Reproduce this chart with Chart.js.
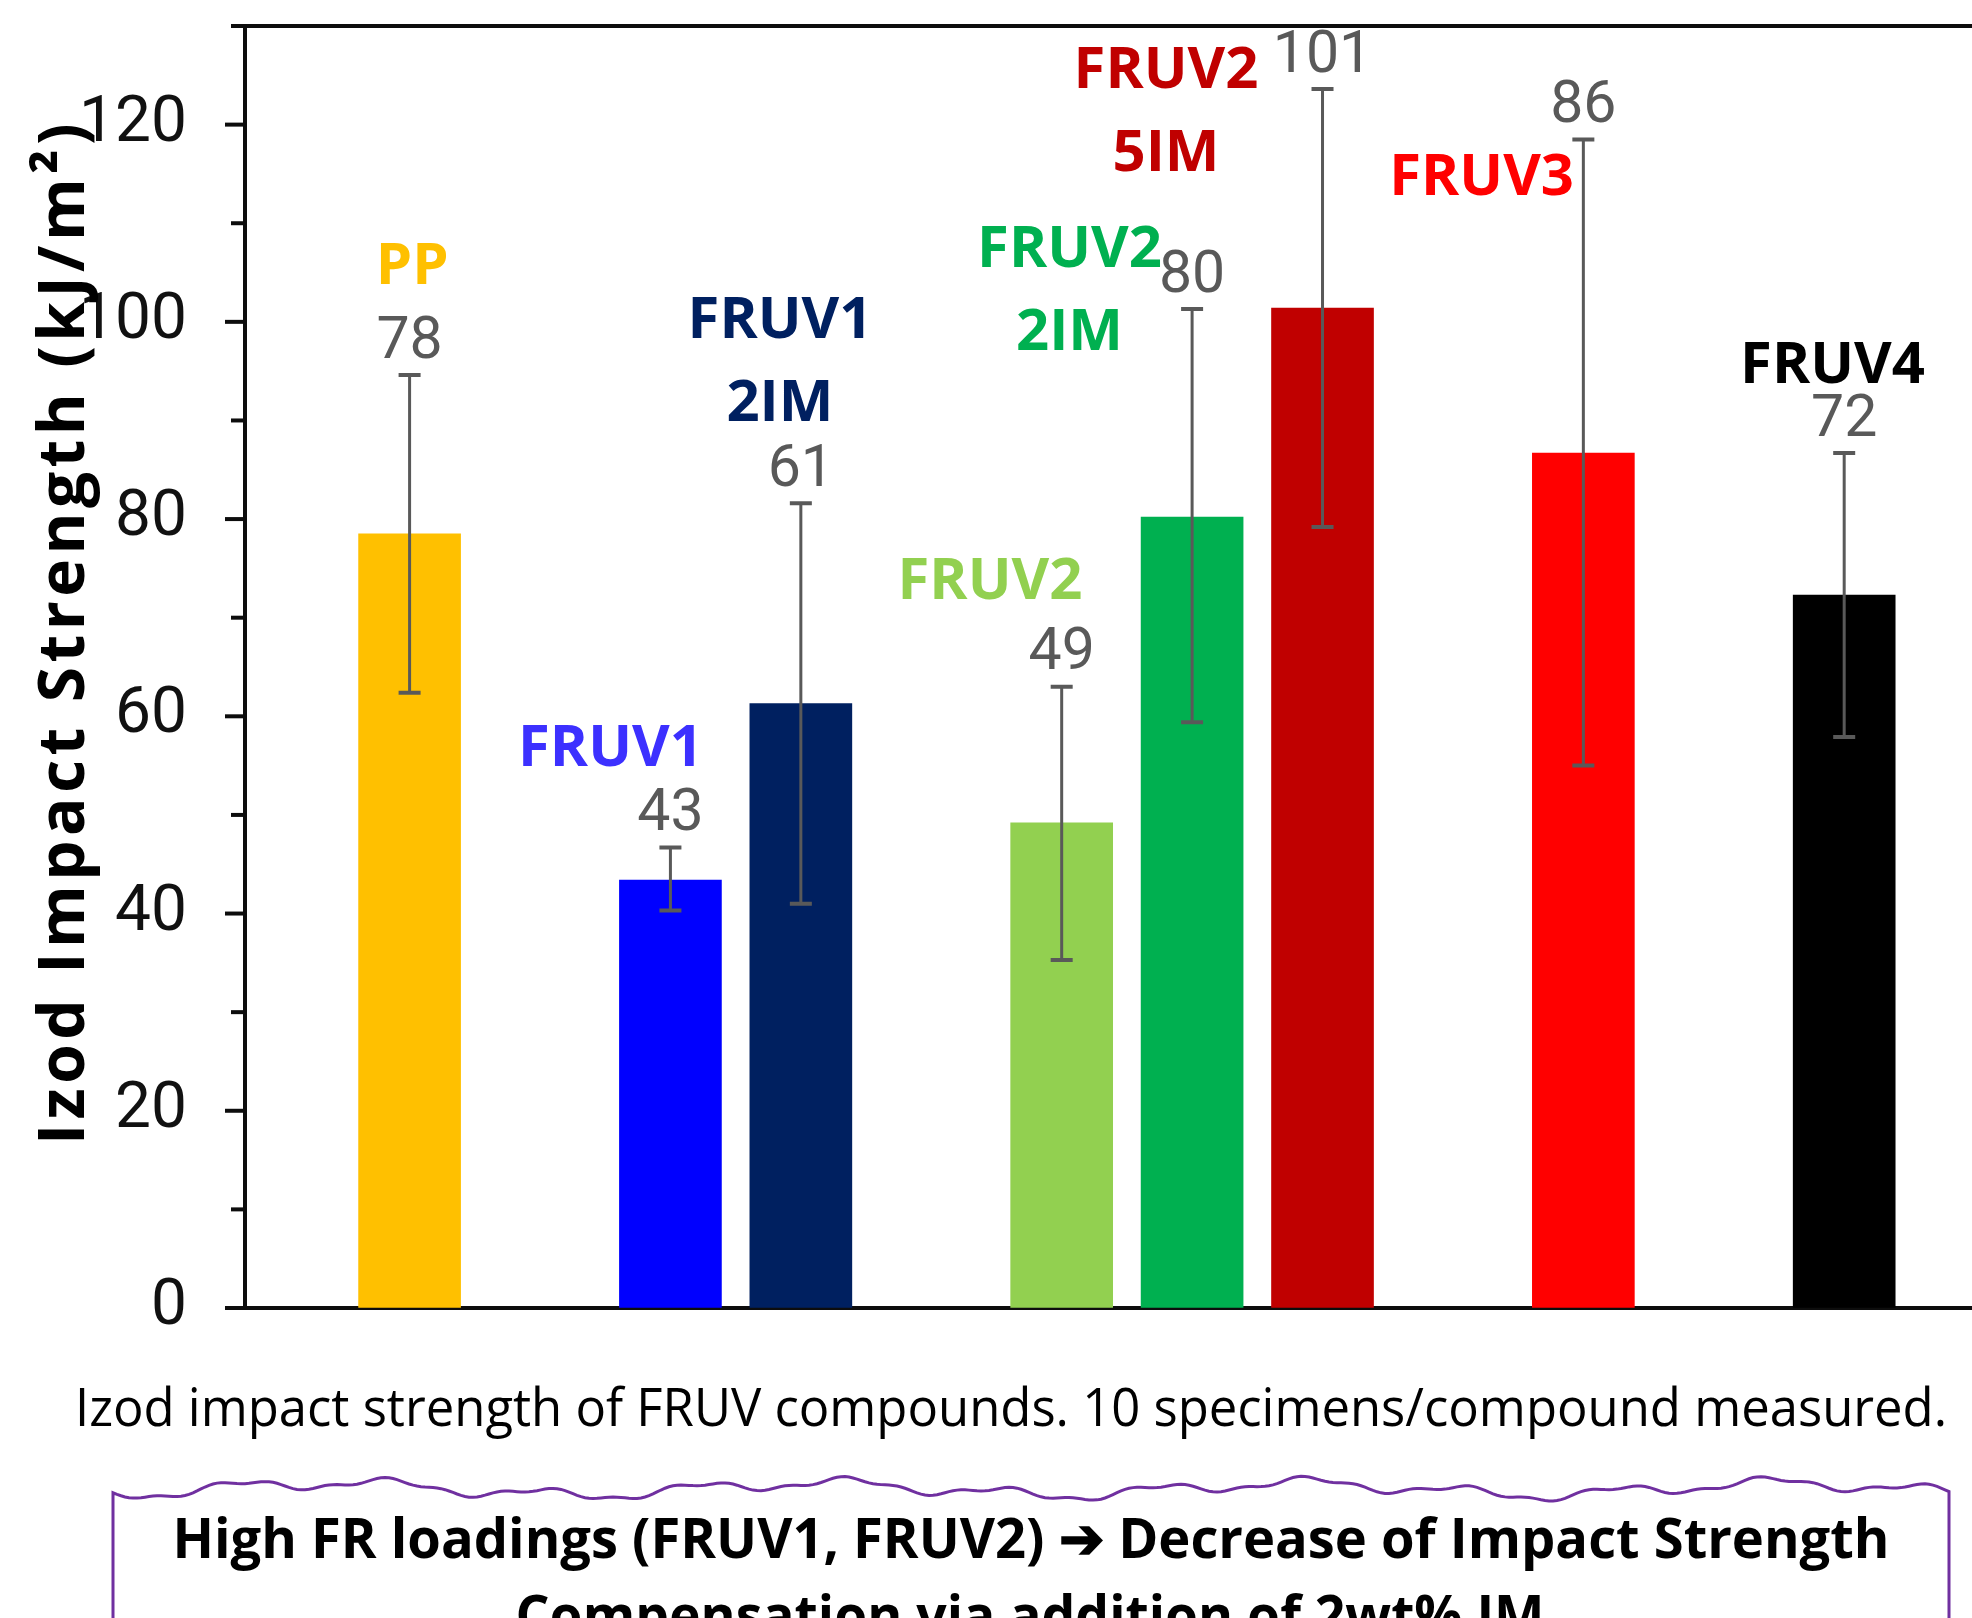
<!DOCTYPE html>
<html>
<head>
<meta charset="utf-8">
<script src="https://cdn.jsdelivr.net/npm/chart.js@4.4.1/dist/chart.umd.min.js"></script>
<style>
  html, body { margin: 0; padding: 0; background: #fff; }
  #wrap { width: 1972px; height: 1618px; }
</style>
</head>
<body>
<div id="wrap"><canvas id="chart" width="1972" height="1618"></canvas></div>
<script>
// slots along the x axis; blank entries are the gaps between groups
const categories = ['PP', '', 'FRUV1', 'FRUV1 2IM', '', 'FRUV2', 'FRUV2 2IM', 'FRUV2 5IM', '', 'FRUV3', '', 'FRUV4'];
const impactStrength = [78.5, null, 43.4, 61.3, null, 49.2, 80.2, 101.4, null, 86.7, null, 72.3];
const errLow = [62.4, null, 40.3, 41.0, null, 35.3, 59.4, 79.2, null, 55.0, null, 57.9];
const errHigh = [94.6, null, 46.7, 81.6, null, 63.0, 101.3, 123.6, null, 118.5, null, 86.7];
const valueLabels = ['78', '', '43', '61', '', '49', '80', '101', '', '86', '', '72'];
const yTickLabels = [0, 20, 40, 60, 80, 100, 120];

// where the category names sit, in axis units (slot, kJ/m2)
const nameX = [0.02, null, 1.54, 2.84, null, 4.45, 5.06, 5.8, null, 8.22, null, 10.91];
const nameY = [106, null, 57.1, 100.5, null, 74, 107.7, 125.8, null, 115, null, 95.9];

const barColors = ['#FFC000', null, '#0000FF', '#002060', null, '#92D050', '#00B050', '#C00000', null, '#FF0000', null, '#000000'];
const nameColors = ['#FFC000', null, '#3C30FF', '#002060', null, '#92D050', '#00B050', '#C00000', null, '#FF0000', null, '#000000'];

const AXIS = '#0d0d0d';
const NARROW = '"Liberation Sans Narrow", "Roboto", sans-serif';
const BOLD = '"Open Sans", "Noto Sans", sans-serif';

const overlay = {
    id: 'overlay',
    afterDraw(chart) {
        const { ctx, chartArea: area } = chart;
        const x = chart.scales.x, y = chart.scales.y;
        ctx.save();

        // frame top line and y tick marks
        ctx.strokeStyle = AXIS;
        ctx.lineWidth = 4;
        ctx.beginPath();
        ctx.moveTo(area.left, area.top);
        ctx.lineTo(area.right, area.top);
        ctx.stroke();
        for (let v = 0; v <= 130; v += 10) {
            const len = v % 20 === 0 ? 20 : 14;
            const py = y.getPixelForValue(v);
            ctx.beginPath();
            ctx.moveTo(area.left - len, py);
            ctx.lineTo(area.left, py);
            ctx.stroke();
        }

        // error bars
        ctx.strokeStyle = '#595959';
        categories.forEach((c, i) => {
            if (impactStrength[i] === null) return;
            const px = x.getPixelForValue(i);
            const top = y.getPixelForValue(errHigh[i]);
            const bot = y.getPixelForValue(errLow[i]);
            ctx.lineWidth = 3;
            ctx.beginPath();
            ctx.moveTo(px, top);
            ctx.lineTo(px, bot);
            ctx.stroke();
            ctx.lineWidth = 4;
            ctx.beginPath();
            ctx.moveTo(px - 11, top); ctx.lineTo(px + 11, top);
            ctx.moveTo(px - 11, bot); ctx.lineTo(px + 11, bot);
            ctx.stroke();
        });

        // value labels above the error bars
        ctx.fillStyle = '#595959';
        ctx.font = '59px ' + NARROW;
        ctx.textAlign = 'center';
        ctx.textBaseline = 'middle';
        categories.forEach((c, i) => {
            if (!valueLabels[i]) return;
            ctx.fillText(valueLabels[i], x.getPixelForValue(i), y.getPixelForValue(errHigh[i]) - 32);
        });

        // category names
        ctx.font = 'bold 58px ' + BOLD;
        ctx.textBaseline = 'alphabetic';
        categories.forEach((c, i) => {
            if (!c) return;
            ctx.fillStyle = nameColors[i];
            const px = x.getPixelForValue(nameX[i]);
            const py = y.getPixelForValue(nameY[i]);
            c.split(' ').forEach((line, k) => {
                ctx.fillText(line, px, py + 21 + k * 83);
            });
        });

        // y axis title
        ctx.save();
        ctx.fillStyle = '#000';
        ctx.font = 'bold 64px ' + BOLD;
        const title = 'Izod Impact Strength (kJ/m\u00B2)';
        const w = ctx.measureText(title).width;
        ctx.letterSpacing = ((1026 - w) / title.length).toFixed(2) + 'px';
        ctx.translate(84, 632);
        ctx.rotate(-Math.PI / 2);
        ctx.textAlign = 'center';
        ctx.fillText(title, 0, 0);
        ctx.restore();

        // caption
        ctx.fillStyle = '#000';
        ctx.textAlign = 'center';
        ctx.font = '53px ' + BOLD;
        ctx.fillText('Izod impact strength of FRUV compounds. 10 specimens/compound measured.', 1011, 1426, 1872);

        // purple note box with a wavy top edge
        ctx.strokeStyle = '#7030A0';
        ctx.lineWidth = 3;
        ctx.beginPath();
        ctx.moveTo(113, 1618);
        for (let px = 113; px <= 1949; px += 4) {
            const py = 1489 + 6 * Math.sin(px * 0.013 + 0.4) + 5 * Math.sin(px * 0.041 + 1.3) + 2 * Math.sin(px * 0.11);
            ctx.lineTo(px, py);
        }
        ctx.lineTo(1949, 1618);
        ctx.stroke();

        ctx.font = 'bold 56px ' + BOLD;
        ctx.fillText('High FR loadings (FRUV1, FRUV2) \u2794 Decrease of Impact Strength', 1031, 1558, 1717);
        ctx.fillText('Compensation via addition of 2wt% IM', 1030, 1635, 1029);

        ctx.restore();
    }
};

new Chart(document.getElementById('chart'), {
    type: 'bar',
    data: {
        datasets: [{
            data: categories.map((c, i) => ({ x: i, y: impactStrength[i] })),
            backgroundColor: barColors.map(col => col || 'transparent'),
            barThickness: 102,
            borderWidth: 0
        }]
    },
    options: {
        responsive: false,
        animation: false,
        devicePixelRatio: 1,
        layout: { padding: { top: 26, left: 0, right: 0, bottom: 310 } },
        plugins: { legend: { display: false }, tooltip: { enabled: false } },
        scales: {
            x: {
                type: 'linear',
                offset: false,
                min: -1.262,
                max: 11.98,
                afterFit: (scale) => { scale.height = 0; },
                grid: { display: false },
                ticks: { display: false },
                border: { display: true, color: AXIS, width: 4 }
            },
            y: {
                min: 0,
                max: 130,
                afterFit: (scale) => { scale.width = 245; },
                // tick marks are drawn by the overlay; the invisible grid ticks just keep labels off the axis
                grid: { display: true, drawOnChartArea: false, drawTicks: true, tickLength: 58, tickColor: 'rgba(0,0,0,0)' },
                border: { display: true, color: AXIS, width: 4 },
                ticks: {
                    stepSize: 10,
                    padding: 0,
                    color: '#111',
                    font: { family: NARROW, size: 64, lineHeight: 0.6 },
                    callback: (v) => yTickLabels.includes(v) ? String(v) : null
                }
            }
        }
    },
    plugins: [overlay]
});
</script>
</body>
</html>
